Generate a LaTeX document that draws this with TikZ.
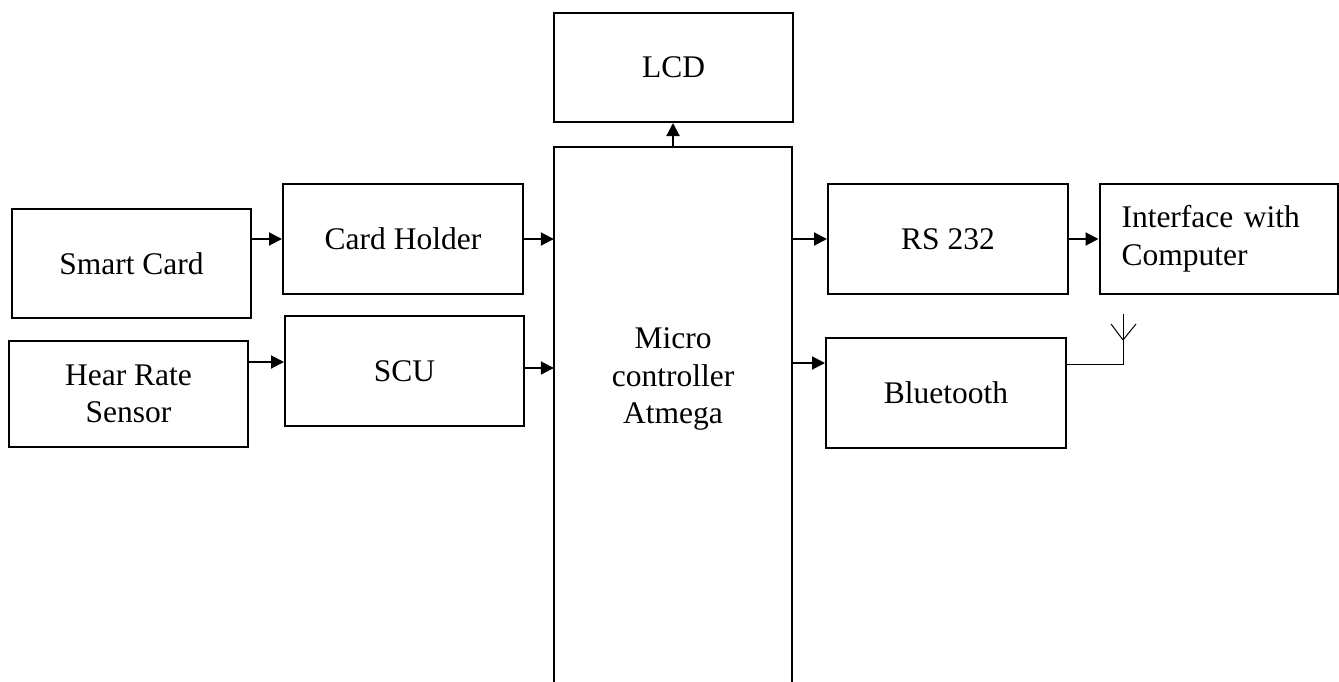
\documentclass[tikz,border=0pt]{standalone}
\usepackage{fontspec}
\setmainfont{Liberation Serif}
\usetikzlibrary{arrows.meta}
\begin{document}
\begin{tikzpicture}[x=1pt,y=-1pt,
  box/.style={draw,line width=2pt,rectangle,minimum width=239pt,minimum height=109pt,inner sep=0pt,align=center,font=\fontsize{31.5}{37.5}\selectfont},
  lbl/.style={inner sep=0pt,align=center,font=\fontsize{31.5}{37.5}\selectfont},
  arr/.style={line width=2pt,-{Triangle[length=13pt,width=13pt]}},
  wire/.style={line width=1pt}]
\useasboundingbox (0,0) rectangle (1339,681);
\node[box] (sc) at (131.5,263.5) {Smart Card};
\node[box,minimum height=106pt] (hr) at (128.5,394) {Hear Rate\\Sensor};
\node[box,minimum width=240pt,minimum height=110pt] (ch) at (403,239) {Card Holder};
\node[box,minimum height=110pt] (scu) at (404.5,371) {SCU};
\node[box] (lcd) at (673.5,67.5) {LCD};
\node[minimum width=238pt,minimum height=553pt,inner sep=0pt] (mcu) at (673,423.5) {};
\node[lbl] (mcut) at (673,379) {Micro\\controller\\Atmega};
\node[box,minimum width=240pt,minimum height=110pt] (rs) at (948,239) {RS 232};
\node[box,minimum width=0pt,text width=194pt,inner xsep=22pt,minimum height=110pt,align=left] (ifc) at (1218.5,239) {Interface with\\Computer};
\node[box,minimum width=240pt,minimum height=110pt] (bt) at (946,393) {Bluetooth};
\draw[line width=2pt] (mcu.south west) -- (mcu.north west) -- (mcu.north east) -- (mcu.south east);
\draw[arr] (sc.east |- ch.west) -- (ch.west);
\draw[arr] ([yshift=32pt]hr.east) -- ([yshift=32pt]hr.east -| scu.west);
\draw[arr] (ch.east) -- (ch.east -| mcu.west);
\draw[arr] ([yshift=3pt]scu.east) -- ([yshift=3pt]scu.east -| mcu.west);
\draw[arr] (mcu.north) -- (mcu.north |- lcd.south);
\draw[arr] (mcu.east |- rs.west) -- (rs.west);
\draw[arr] (rs.east) -- (ifc.west);
\draw[arr] ([yshift=30pt]bt.west -| mcu.east) -- ([yshift=30pt]bt.west);
\coordinate (ant) at (1123,340);
\draw[wire] ([yshift=29pt]bt.east) -| (ant) -- ++(0,-26);
\draw[wire] (ant) -- ++(-12,-16);
\draw[wire] (ant) -- ++(13,-16);
\end{tikzpicture}
\end{document}
